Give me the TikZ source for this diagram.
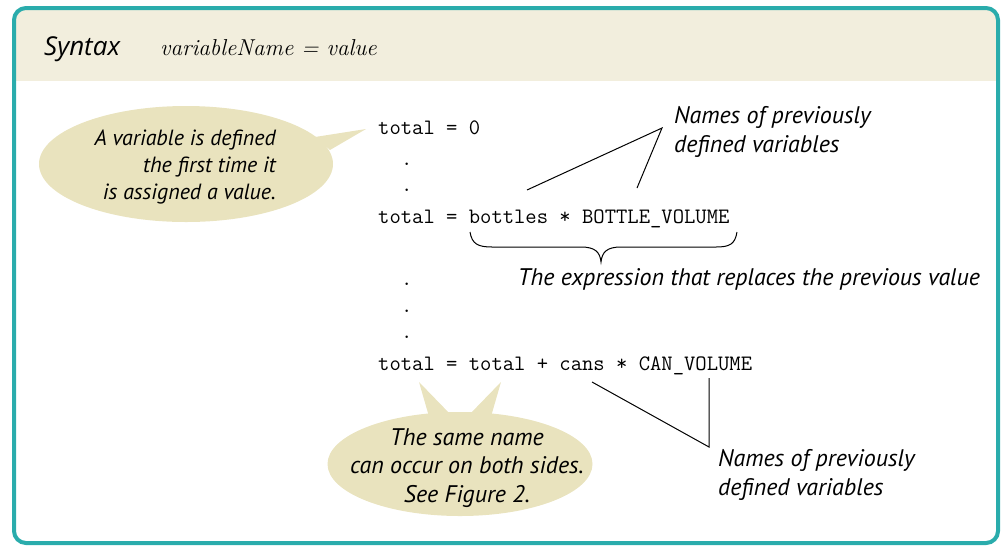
\documentclass[tikz,border=0pt]{standalone}
\usepackage{fontspec}
\usetikzlibrary{shapes.geometric}
\newfontfamily\notefont{PT Sans}
\newfontfamily\headfont{Open Sans}
\definecolor{frame}{RGB}{42,172,172}
\definecolor{band}{RGB}{242,238,221}
\definecolor{bubble}{RGB}{233,227,190}
\begin{document}
\begin{tikzpicture}[x=1pt,y=-1pt,
  code/.style={font=\fontsize{22}{26}\selectfont\ttfamily, inner sep=0, anchor=base west},
  note/.style={font=\fontsize{24}{29}\selectfont\notefont\itshape, inner sep=0, align=left, anchor=north west},
  bubtext/.style={font=\fontsize{22}{27}\selectfont\notefont\itshape, inner sep=0},
  lead/.style={line width=1pt, black},
  bubfill/.style={fill=bubble, draw=none, inner sep=0}]

\useasboundingbox (0,0) rectangle (1003,547);

% header band and frame
\begin{scope}
  \clip[rounded corners=12] (14,8) rectangle (998,543);
  \fill[band] (0,0) rectangle (1003,81);
\end{scope}
\draw[frame, line width=4pt, rounded corners=12] (14,8) rectangle (998,543);

\node[font=\fontsize{26}{30}\selectfont\headfont\itshape, anchor=base west, inner sep=0] (syn) at (44,55) {Syntax};
\node[font=\fontsize{23}{28}\selectfont\itshape, anchor=base west, inner sep=0] (form) at (160,55) {variableName = value};

% code lines
\node[code] (c1) at (378,134) {total = 0};
\node[code] (d1) at (401,165) {.};
\node[code] (d2) at (401,191) {.};
\node[code] (c2) at (378,223) {total = bottles * BOTTLE\_VOLUME};
\node[code] (d3) at (401,285) {.};
\node[code] (d4) at (401,312) {.};
\node[code] (d5) at (401,338) {.};
\node[code] (c3) at (378,370) {total = total + cans * CAN\_VOLUME};

% speech bubble: first definition
\node[ellipse, bubfill, minimum width=294, minimum height=116] (b1) at (186,164) {};
\fill[bubble] (315,137) -- (366,129) -- (330,150) -- cycle;
\node[bubtext, align=right, anchor=north east] (t1) at (276,130)
  {A variable is defined\\the first time it\\is assigned a value.};

% speech bubble: same name on both sides
\node[ellipse, bubfill, minimum width=265, minimum height=104] (b2) at (460,464) {};
\fill[bubble] (430,420) -- (419,382) -- (452,416) -- cycle;
\fill[bubble] (468,416) -- (501,382) -- (490,420) -- cycle;
\node[bubtext, font=\fontsize{24}{28.5}\selectfont\notefont\itshape, align=center, anchor=north] (t2) at (467,428)
  {The same name\\can occur on both sides.\\See Figure 2.};

% labels
\node[note] (n1) at (674,106) {Names of previously\\defined variables};
\node[note, anchor=north] (n2) at (749,268) {The expression that replaces the previous value};
\node[note] (n3) at (718,449) {Names of previously\\defined variables};

% leader lines
\coordinate (pA) at (662,128);
\coordinate (bot) at (527,190);
\coordinate (bv) at (637,188);
\draw[lead] (bot) -- (pA) -- (bv);
\coordinate (pB) at (709,447);
\coordinate (cans) at (592,382);
\coordinate (cv) at (709,378);
\draw[lead] (cans) -- (pB) -- (cv);

% brace under the expression
\draw[lead] (470,232) .. controls (472,244) and (478,247) .. (492,247) -- (581,247)
  .. controls (595,247) and (600,252) .. (601,262)
  .. controls (602,252) and (607,247) .. (621,247) -- (716,247)
  .. controls (730,247) and (735,244) .. (737,232);
\end{tikzpicture}
\end{document}
